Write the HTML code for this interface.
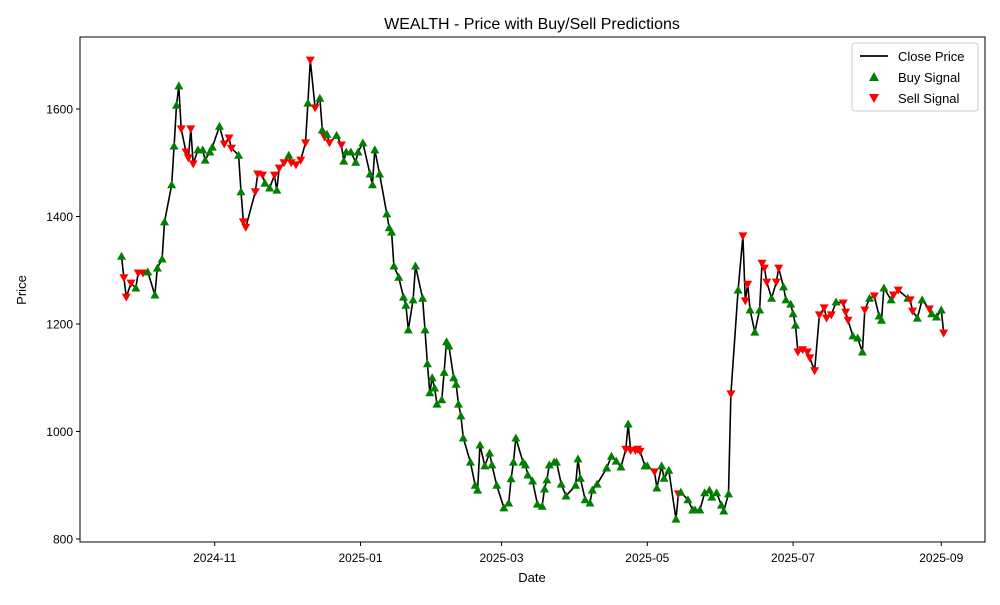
<!DOCTYPE html>
<html><head><meta charset="utf-8"><style>
body{margin:0;background:#fff}
svg{font-family:"Liberation Sans","DejaVu Sans",sans-serif}
</style></head><body>
<svg id="chart" width="1000" height="600" viewBox="0 0 1000 600">
<rect width="1000" height="600" fill="#fff"/>
<text x="532" y="29" font-size="16" text-anchor="middle">WEALTH - Price with Buy/Sell Predictions</text>
<g id="series"></g>
<rect x="80" y="37" width="905" height="505" fill="none" stroke="#000" stroke-width="1"/>
<g id="axes"></g>
<text x="532" y="582" font-size="13" text-anchor="middle">Date</text>
<text x="26" y="290" font-size="13" text-anchor="middle" transform="rotate(-90 26 290)">Price</text>
<g>
<rect x="852" y="43" width="126" height="68" fill="#fff" fill-opacity="0.8" stroke="#ccc" rx="3"/>
<line x1="860" y1="56" x2="888" y2="56" stroke="#000" stroke-width="1.8"/>
<text x="898" y="61" font-size="13">Close Price</text>
<polygon points="874,72 879,81 869,81" fill="green"/>
<text x="898" y="82" font-size="13">Buy Signal</text>
<polygon points="869,94 879,94 874,103" fill="red"/>
<text x="898" y="103" font-size="13">Sell Signal</text>
</g>
</svg>
<script>
const dayOffsets=[-39,-38,-37,-35,-33,-32,-30,-28,-25,-24,-22,-21,-18,-17,-16,-15,-14,-12,-11,-10,-9,-7,-5,-4,-2,-1,2,4,6,7,10,11,12,13,17,18,20,21,23,25,26,27,29,31,32,34,36,38,39,40,42,44,45,46,47,48,51,53,54,55,57,59,60,62,65,66,67,69,72,73,74,75,77,79,80,81,83,84,87,88,89,90,91,92,93,95,96,97,98,100,101,102,103,104,107,109,110,111,113,115,116,118,121,123,124,125,126,129,130,131,133,135,137,138,139,140,142,143,145,147,151,152,153,155,157,158,160,164,166,168,170,172,173,174,176,177,178,180,181,184,185,187,188,190,193,194,195,198,200,201,203,205,207,208,210,212,213,215,216,219,221,222,223,224,226,228,229,230,231,233,235,236,238,239,241,242,243,244,246,248,249,251,253,255,256,258,260,263,264,265,267,269,271,272,274,276,278,279,280,283,284,286,290,291,292,294,296,299,300,302,304,305];
const prices=[1326,1286,1250,1276,1267,1295,1295,1297,1254,1304,1321,1390,1459,1531,1607,1643,1563,1520,1509,1563,1498,1524,1524,1505,1520,1529,1568,1535,1546,1527,1514,1446,1390,1380,1446,1479,1477,1462,1453,1477,1449,1490,1500,1514,1500,1496,1505,1537,1611,1691,1602,1620,1561,1548,1553,1537,1551,1533,1503,1520,1520,1501,1520,1537,1479,1459,1524,1479,1405,1379,1371,1308,1287,1250,1235,1189,1245,1308,1248,1189,1126,1072,1100,1081,1051,1059,1110,1167,1159,1100,1088,1051,1029,988,943,900,891,975,936,960,938,900,858,867,912,943,988,943,938,919,908,865,861,893,910,938,943,943,902,880,900,949,913,873,867,891,902,932,954,945,934,967,1014,965,965,967,963,936,936,925,895,936,913,928,837,884,887,873,854,854,854,886,891,878,886,863,852,884,1070,1263,1364,1243,1274,1226,1185,1226,1313,1304,1278,1248,1278,1304,1269,1245,1237,1219,1198,1148,1152,1148,1137,1113,1217,1230,1211,1217,1241,1239,1222,1207,1178,1174,1148,1226,1248,1252,1215,1207,1267,1245,1254,1263,1248,1245,1224,1211,1245,1228,1219,1213,1226,1183];
const signals=("BSSSBSSBBBBBBBBB"+"SSSSS"+"BBBBBB"+"SSS"+"BB"+"SSSSS"+"BB"+"S"+"B"+"SS"+"B"+"SSSS"+"B"+"SS"+"BB"+"S"+"B"+"S"+"B"+"S"+"BBBBBB"+
"BBBBBBBBBBBBBBBBBBBBBBBBBBBBBBBBBBBBBBBBBBBBBBBBBBBBBBBBBBBBBBBBBBB"+
"S"+"B"+"SSSS"+"BB"+"S"+"BBBBB"+"S"+"BBBBBBBBBBBB"+"S"+"B"+"SSS"+"BBB"+"SSS"+"B"+"SS"+"BBBBB"+"SSSSSSSSS"+"B"+"SSS"+"BBB"+"S"+"B"+"S"+"BBBB"+"SS"+"B"+"SS"+"BB"+"S"+"BBB"+"S").split('');
const yTicks=[800,1000,1200,1400,1600];
const xTickLabels=["2024-11","2025-01","2025-03","2025-05","2025-07","2025-09"];
const xTickDays=[0,61,120,181,242,304];

const NS="http://www.w3.org/2000/svg";
const X=d=>214.7+d*2.39;
const Y=v=>539-(v-800)*0.5375;
const axes=document.getElementById('axes'), series=document.getElementById('series');
function mk(tag,attrs,parent){const e=document.createElementNS(NS,tag);for(const k in attrs)e.setAttribute(k,attrs[k]);parent.appendChild(e);return e;}
yTicks.forEach(v=>{
  const l=mk('line',{x1:76,x2:80,y1:Y(v),y2:Y(v),stroke:'#000'},axes);
  
  
  const t=mk('text',{x:73,y:Y(v)+4.5,'font-size':12,'text-anchor':'end'},axes);
  
  
  t.textContent=v;
});
xTickLabels.forEach((s,i)=>{
  const x=X(xTickDays[i]);
  const l=mk('line',{x1:x,x2:x,y1:542,y2:546,stroke:'#000'},axes);
  
  
  const t=mk('text',{x:x,y:562,'font-size':12,'text-anchor':'middle'},axes);
  
  
  t.textContent=s;
});
const pts=prices.map((p,i)=>X(dayOffsets[i]).toFixed(1)+','+Y(p).toFixed(1)).join(' ');
const line=mk('polyline',{points:pts,fill:'none',stroke:'#000','stroke-width':1.6,'stroke-linejoin':'round'},series);


prices.forEach((p,i)=>{
  const x=X(dayOffsets[i]),y=Y(p);
  let m;
  if(signals[i]!=='S'){
    m=mk('polygon',{points:`${x},${y-4.5} ${x+4.5},${y+3.5} ${x-4.5},${y+3.5}`,fill:'green'},series);
    
  }else{
    m=mk('polygon',{points:`${x-4.5},${y-3.5} ${x+4.5},${y-3.5} ${x},${y+4.5}`,fill:'red'},series);
    
  }
  
});
</script>
</body></html>
